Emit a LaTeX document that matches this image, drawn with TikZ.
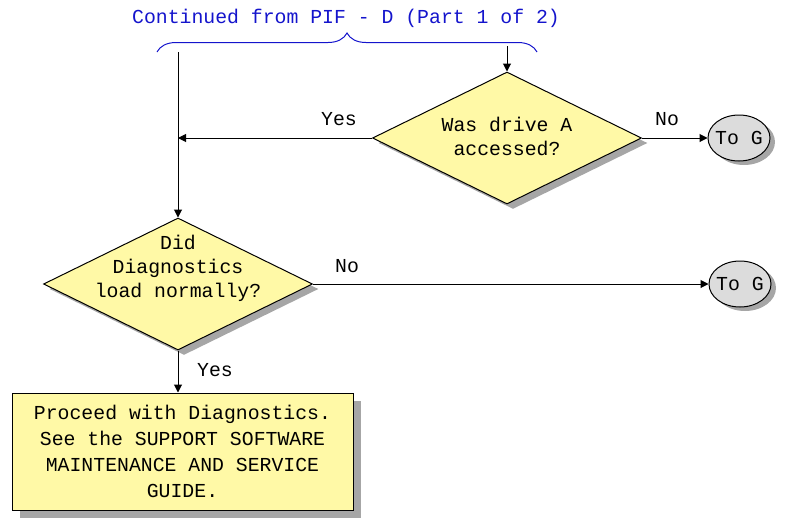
\documentclass[tikz,border=0pt]{standalone}
\usepackage{fontspec}
\setmonofont{Liberation Mono}
\usetikzlibrary{shapes.geometric,shadows,arrows.meta,decorations.pathreplacing}
\definecolor{note}{HTML}{FFF9A6}
\definecolor{term}{HTML}{DCDCDC}
\definecolor{shade}{HTML}{A6A6A6}
\definecolor{link}{HTML}{1414CC}
\tikzset{
  every node/.style={font=\ttfamily\fontsize{19.8}{24}\selectfont},
  decision/.style={diamond, draw, line width=1pt, fill=note, inner sep=0pt,
    minimum width=269pt, minimum height=132pt,
    drop shadow={shadow xshift=6pt, shadow yshift=-5pt, fill=shade, opacity=1}},
  terminal/.style={ellipse, draw, line width=1pt, fill=term, inner sep=0pt,
    minimum width=62pt, minimum height=46pt,
    drop shadow={shadow xshift=5pt, shadow yshift=-4pt, fill=shade, opacity=1}},
  action/.style={rectangle, draw, line width=1pt, fill=note, align=center,
    minimum width=341pt, minimum height=117pt,
    font=\ttfamily\fontsize{19.8}{26}\selectfont,
    drop shadow={shadow xshift=8pt, shadow yshift=-8pt, fill=shade, opacity=1}},
  flow/.style={draw, line width=1pt, -{Triangle[length=8pt,width=8pt]}},
  tag/.style={inner sep=0pt},
}
\begin{document}
\begin{tikzpicture}[x=1pt, y=-1pt]
  \useasboundingbox (0,0) rectangle (793,523);
  % entry from the previous page
  \node[tag, text=link] (from) at (346,18) {Continued from PIF - D (Part 1 of 2)};
  \draw[link, line width=1pt, decorate, decoration={brace, amplitude=19pt}]
    (157,52) -- (537,52);
  \coordinate (inL) at (178,52);
  \coordinate (inR) at (507,46);
  % decisions
  \node[decision, label={[align=center, yshift=2pt]center:Was drive A\\accessed?}] (drv) at (507,138) {};
  \node[decision, label={[align=center, yshift=16pt]center:Did\\Diagnostics\\load normally?}] (diag) at (178,284) {};
  % exits
  \node[terminal, label={center:To G}] (toG1) at (739,138) {};
  \node[terminal, label={center:To G}] (toG2) at (740,284) {};
  \node[action] (go) at (182.5,451.5) {Proceed with Diagnostics.\\See the SUPPORT SOFTWARE\\MAINTENANCE AND SERVICE\\GUIDE.};
  % connectors
  \draw[flow] (inR) -- (drv.north);
  \draw[flow] (inL) -- (diag.north);
  \draw[flow] (drv.west) -- (drv.west -| inL);
  \draw[flow] (drv.east) -- (toG1.west);
  \draw[flow] (diag.east) -- (toG2.west);
  \draw[flow] (diag.south) -- (diag.south |- go.north);
  % answers
  \node[tag] (y1) at (339,119) {Yes};
  \node[tag] (n1) at (667,119) {No};
  \node[tag] (n2) at (347,266) {No};
  \node[tag] (y2) at (215,370) {Yes};
\end{tikzpicture}
\end{document}
